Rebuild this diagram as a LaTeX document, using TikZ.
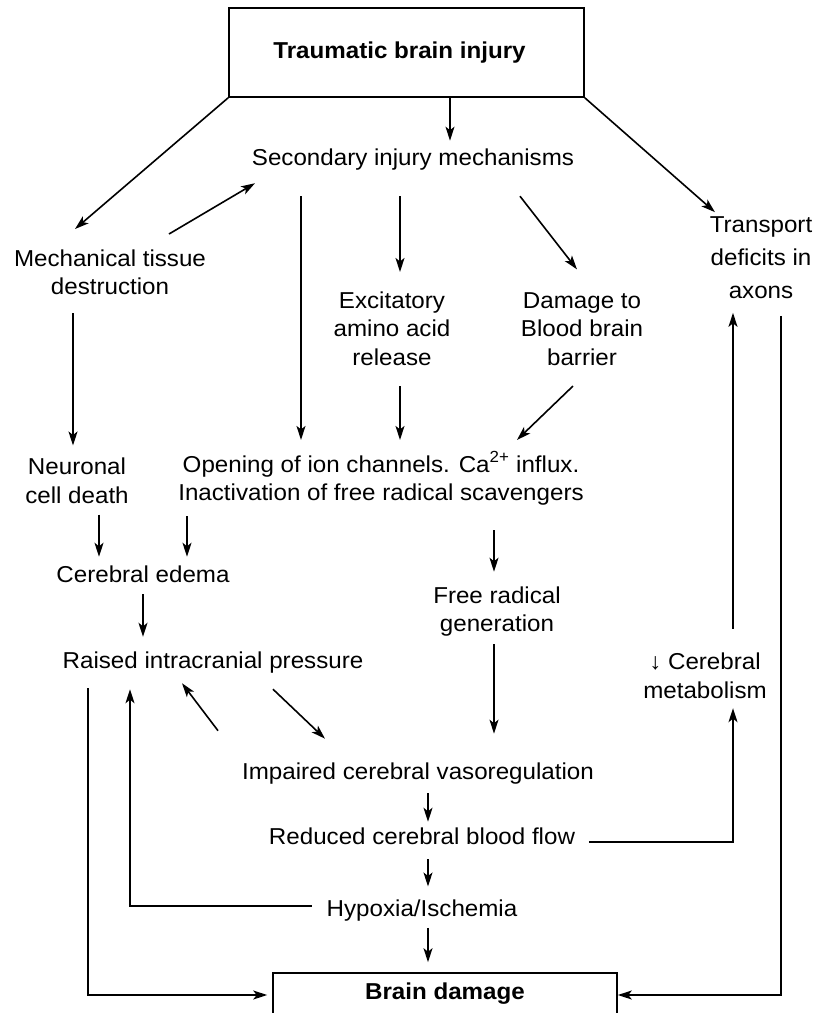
\documentclass[tikz,border=0pt]{standalone}
\usepackage{fontspec}
\setmainfont{Liberation Sans}[FakeStretch=1.05]
\usepackage{tikz}
\usetikzlibrary{calc, arrows.meta}

\begin{document}
\begin{tikzpicture}[x=1pt, y=1pt, >={Stealth[length=14pt, width=9pt, inset=3.5pt]}, line width=1.6pt]
          % Estilos de texto y de cajas
          \tikzstyle{phrase} = [align=center, inner sep=2pt, font=\fontsize{23}{28.5}\selectfont]
          \tikzstyle{block} = [draw, rectangle, inner sep=0pt, font=\fontsize{23}{28.5}\selectfont\bfseries]

          \useasboundingbox (0,0) rectangle (816,-1013); % Marco de la figura

          % Nodos
          \node at (406.5,-52.5) [block, minimum width=355pt, minimum height=89pt] (tbi) {Traumatic brain injury\hspace*{14pt}};
          \node at (413,-159.2) [phrase] (sec) {Secondary injury mechanisms};
          \node at (110,-272.5) [phrase] (mech) {Mechanical tissue\\destruction};
          \node at (761,-258) [phrase, font=\fontsize{23}{33}\selectfont] (trans) {Transport\\deficits in\\axons};
          \node at (392,-328.7) [phrase] (exc) {Excitatory\\amino acid\\release};
          \node at (582,-328.7) [phrase] (dmg) {Damage to\\Blood brain\\barrier};
          \node at (77,-481) [phrase] (neur) {Neuronal\\cell death};
          \node at (381,-478.5) [phrase] (open) {Opening of ion channels. Ca\textsuperscript{2+} influx.\\Inactivation of free radical scavengers};
          \node at (143,-574) [phrase] (edema) {Cerebral edema};
          \node at (497,-611.5) [phrase] (free) {Free radical\\generation};
          \node at (213,-662.3) [phrase] (raised) {Raised intracranial pressure};
          \node at (705,-676) [phrase] (metab) {↓ Cerebral\\metabolism};
          \node at (418,-773.2) [phrase] (imp) {Impaired cerebral vasoregulation};
          \node at (422,-836) [phrase] (red) {Reduced cerebral blood flow};
          \node at (422,-911) [phrase] (hyp) {Hypoxia/Ischemia};
          \node at (445,-1001) [block, minimum width=344pt, text height=26pt, text depth=30pt] (bd) {Brain damage};

          % Conexiones
          \draw [->] ($(tbi.south)+(43.5,0)$) -- ($(sec.north)+(37,5)$);
          \draw [->] (tbi.south west) -- ($(mech.north)+(-35,18)$);
          \draw [->] ($(mech.north)+(59,13)$) -- ($(sec.south)+(-158,-10.5)$);
          \draw [->] (tbi.south east) -- ($(trans.north)+(-46,2)$);
          \draw [->] ($(sec.south)+(-112,-23.5)$) -- ($(open.north)+(-80,9)$);
          \draw [->] ($(sec.south)+(-13,-23.5)$) -- ($(exc.north)+(8,17)$);
          \draw [->] ($(sec.south)+(107,-23.5)$) -- ($(dmg.north)+(-5,20)$);
          \draw [->] ($(mech.south)+(-37,-15)$) -- ($(neur.north)+(-4,10)$);
          \draw [->] ($(exc.south)+(8,-18)$) -- ($(open.north)+(19,9)$);
          \draw [->] ($(dmg.south)+(-9,-18)$) -- ($(open.north)+(136,9)$);
          \draw [->] ($(neur.south)+(22,-8)$) -- ($(edema.north)+(-44,6)$);
          \draw [->] ($(open.south)+(-194,-8)$) -- ($(edema.north)+(44,6)$);
          \draw [->] ($(edema.south)+(0,-9)$) -- ($(raised.north)+(-70,12)$);
          \draw [->] ($(open.south)+(113,-22)$) -- ($(free.north)+(-3,12)$);
          \draw [->] ($(free.south)+(-3,-5)$) -- ($(imp.north)+(76,26)$);
          \draw [->] ($(imp.north)+(-200,29)$) -- ($(raised.south)+(-31,-7.4)$);
          \draw [->] ($(raised.south)+(60,-13.4)$) -- ($(imp.north)+(-93,21)$);
          \draw [->] ($(imp.south)+(10,-6.5)$) -- ($(red.north)+(6,3)$);
          \draw [->] ($(red.south)+(6,-12)$) -- ($(hyp.north)+(6,11)$);
          \draw [->] ($(hyp.south)+(6,-3.4)$) -- ($(bd.north)+(-17,10)$);
          \draw [->] ($(red.east)+(11,-6)$) -| ($(metab.south)+(28,-6.7)$); % rama hacia el metabolismo
          \draw [->] ($(metab.north)+(28,22)$) -- ($(trans.south)+(-28,-11)$);
          \draw [->] ($(trans.south)+(20,-14)$) |- ($(bd.east)+(0,6)$);
          \draw [->] ($(raised.south)+(-125,-12.4)$) |- ($(bd.west)+(-5,6)$);
          \draw [->] ($(hyp.west)+(-12,5)$) -| ($(raised.south)+(-83,-13.4)$); % retorno a la presion
        \end{tikzpicture}
\end{document}
